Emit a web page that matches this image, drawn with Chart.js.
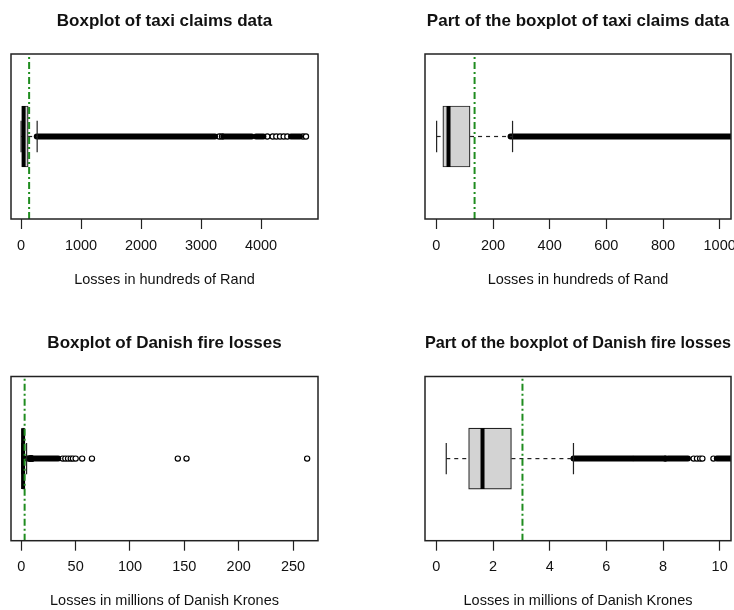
<!DOCTYPE html>
<html>
<head>
<meta charset="utf-8">
<script src="https://cdn.jsdelivr.net/npm/chart.js@4.4.1/dist/chart.umd.min.js"></script>
<style>
html, body { margin: 0; padding: 0; background: #fff; overflow: hidden; width: 734px; height: 610px; }
canvas { position: absolute; }
</style>
</head>
<body>
<canvas id="c1" width="367" height="300" style="left:0;top:0"></canvas>
<canvas id="c2" width="400" height="300" style="left:367px;top:0"></canvas>
<canvas id="c3" width="367" height="300" style="left:0;top:310px"></canvas>
<canvas id="c4" width="400" height="300" style="left:367px;top:310px"></canvas>
<script>
// taxi claims, hundreds of Rand
// box: lower whisker, q1, median, q3, upper whisker
let taxiBox = [1, 23, 43, 119, 269];
let taxiLine = 135;
// runs of outliers so dense they merge into one thick stroke
let taxiOutlierRuns = [[262, 3233], [3372, 3845], [3917, 4040], [4500, 4650]];
let taxiOutliers = [3305, 3350, 4105, 4195, 4255, 4317, 4378, 4439, 4700, 4750];
let taxiTicksFull = [0, 1000, 2000, 3000, 4000];
let taxiTicksPart = [0, 200, 400, 600, 800, 1000];

// danish fire losses, millions of DKK
let fireBox = [0.35, 1.14, 1.63, 2.65, 4.84];
let fireLine = 3.04;
let fireOutlierRuns = [[4.84, 6.92], [6.98, 8.07], [8.18, 8.88], [9.9, 34]];
let fireOutliers = [8.09, 9.08, 9.2, 9.31, 9.39, 9.78, 38, 40.5, 43, 45.5, 47.5, 50, 56, 65, 144, 152, 263];
let fireTicksFull = [0, 50, 100, 150, 200, 250];
let fireTicksPart = [0, 2, 4, 6, 8, 10];

Chart.defaults.font.family = '"Liberation Sans", Arial, sans-serif';
Chart.defaults.color = '#111';

const ink = '#222';
const boxHalf = 0.37;  // half box height in y units (y axis 0..2)
const capHalf = 0.19;

// the R style frame round the plot region
const frame = {
    id: 'frame',
    afterDatasetsDraw(chart) {
        const a = chart.chartArea, ctx = chart.ctx;
        ctx.save();
        ctx.strokeStyle = ink;
        ctx.lineWidth = 1.5;
        ctx.strokeRect(a.left, a.top, a.right - a.left, a.bottom - a.top);
        ctx.restore();
    }
};

function seg(x1, y1, x2, y2, extra) {
    return Object.assign({
        showLine: true,
        pointRadius: 0,
        borderColor: ink,
        borderWidth: 1.2,
        clip: 0,
        data: [{ x: x1, y: y1 }, { x: x2, y: y2 }]
    }, extra);
}

function boxplot(id, p) {
    const [lo, q1, med, q3, hi] = p.box;
    let datasets = [];

    // green reference line on top
    datasets.push(seg(p.line, 0, p.line, 2, { borderColor: '#1f8c1f', borderWidth: 2, borderDash: [7, 3, 2, 3], order: 1 }));
    // median
    datasets.push(seg(med, 1 - boxHalf, med, 1 + boxHalf, { borderColor: '#000', borderWidth: 4, order: 2 }));
    // whisker caps
    datasets.push(seg(lo, 1 - capHalf, lo, 1 + capHalf, { order: 2 }));
    datasets.push(seg(hi, 1 - capHalf, hi, 1 + capHalf, { order: 2 }));
    // box
    datasets.push({
        type: 'bar',
        indexAxis: 'y',
        data: [{ x: [q1, q3], y: 1 }],
        backgroundColor: '#d3d3d3',
        borderColor: ink,
        borderWidth: 1.2,
        borderSkipped: false,
        barThickness: 61,
        clip: 0,
        order: 3
    });
    // whiskers
    datasets.push(seg(lo, 1, q1, 1, { borderDash: [4, 4], order: 4 }));
    datasets.push(seg(q3, 1, hi, 1, { borderDash: [4, 4], order: 4 }));
    // outliers
    p.runs.forEach(r => {
        datasets.push(seg(r[0], 1, r[1], 1, { borderColor: '#000', borderWidth: 6, borderCapStyle: 'round', order: 5 }));
    });
    datasets.push({
        data: p.points.map(v => ({ x: v, y: 1 })),
        pointRadius: 2.6,
        pointBorderWidth: 1.2,
        pointBorderColor: '#000',
        pointBackgroundColor: '#fff',
        clip: 0,
        order: 5
    });

    return new Chart(document.getElementById(id), {
        type: 'scatter',
        data: { datasets: datasets },
        options: {
            responsive: false,
            animation: false,
            events: [],
            layout: { padding: p.pad },
            plugins: {
                legend: { display: false },
                tooltip: { enabled: false },
                title: {
                    display: true,
                    text: p.title,
                    fullSize: false,
                    font: { size: 17, weight: 'bold' },
                    color: '#111',
                    padding: p.titlePad
                }
            },
            scales: {
                x: {
                    type: 'linear',
                    min: p.min,
                    max: p.max,
                    afterBuildTicks: s => { s.ticks = p.ticks.map(v => ({ value: v })); },
                    ticks: {
                        callback: v => String(v),
                        autoSkip: false,
                        maxRotation: 0,
                        padding: 8,
                        font: { size: 14.5 },
                        color: '#111'
                    },
                    grid: { drawOnChartArea: false, tickLength: 10, tickColor: ink, tickWidth: 1.2 },
                    border: { display: false },
                    title: {
                        display: true,
                        text: p.label,
                        font: { size: 14.5 },
                        color: '#111',
                        padding: p.labelPad
                    }
                },
                y: { type: 'linear', display: false, min: 0, max: 2, offset: false }
            }
        },
        plugins: [frame]
    });
}

const topTitlePad = { top: 11, bottom: 22.6 };
const topLabelPad = { top: 8.4, bottom: 11.8 };
const botTitlePad = { top: 22.7, bottom: 23.4 };
const botLabelPad = { top: 8.5, bottom: 0 };

boxplot('c1', {
    title: 'Boxplot of taxi claims data',
    label: 'Losses in hundreds of Rand',
    box: taxiBox, line: taxiLine, runs: taxiOutlierRuns, points: taxiOutliers,
    ticks: taxiTicksFull, min: -167, max: 4950,
    pad: { left: 11, right: 49, top: 0, bottom: 0 },
    titlePad: topTitlePad, labelPad: topLabelPad
});
boxplot('c2', {
    title: 'Part of the boxplot of taxi claims data',
    label: 'Losses in hundreds of Rand',
    box: taxiBox, line: taxiLine, runs: taxiOutlierRuns, points: taxiOutliers,
    ticks: taxiTicksPart, min: -40, max: 1040,
    pad: { left: 58, right: 36, top: 0, bottom: 0 },
    titlePad: topTitlePad, labelPad: topLabelPad
});
boxplot('c3', {
    title: 'Boxplot of Danish fire losses',
    label: 'Losses in millions of Danish Krones',
    box: fireBox, line: fireLine, runs: fireOutlierRuns, points: fireOutliers,
    ticks: fireTicksFull, min: -9.5, max: 273,
    pad: { left: 11, right: 49, top: 0, bottom: 0 },
    titlePad: botTitlePad, labelPad: botLabelPad
});
boxplot('c4', {
    title: 'Part of the boxplot of Danish fire losses',
    label: 'Losses in millions of Danish Krones',
    box: fireBox, line: fireLine, runs: fireOutlierRuns, points: fireOutliers,
    ticks: fireTicksPart, min: -0.4, max: 10.4,
    pad: { left: 58, right: 36, top: 0, bottom: 0 },
    titlePad: botTitlePad, labelPad: botLabelPad
});
</script>
</body>
</html>
